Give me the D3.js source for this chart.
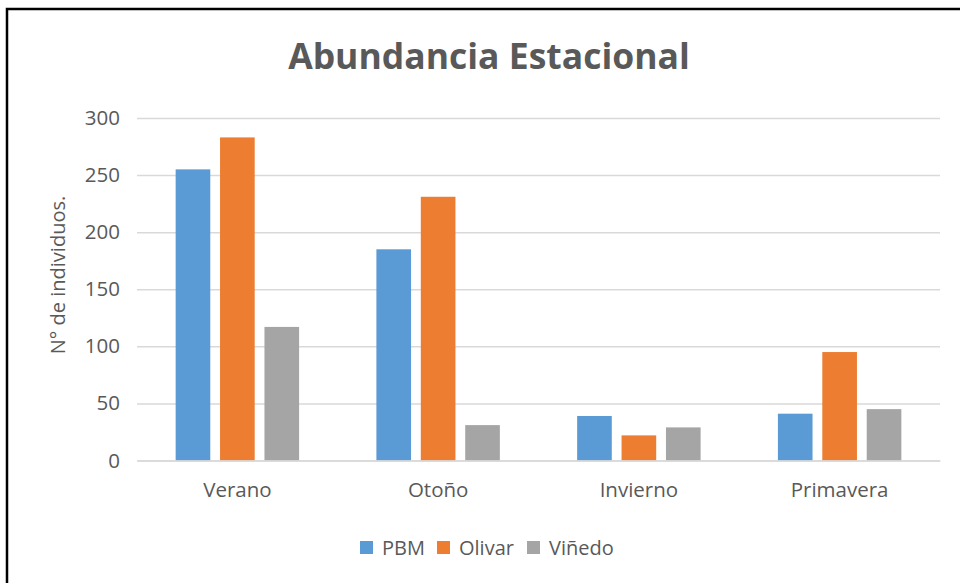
<!DOCTYPE html>
<html>
<head>
<meta charset="utf-8">
<script src="https://cdn.jsdelivr.net/npm/d3@7"></script>
<style>
  html, body { margin: 0; padding: 0; background: #fff; }
  svg { display: block; }
</style>
</head>
<body>
<svg id="chart" width="960" height="583"></svg>
<script>
const categories = ["Verano", "Otoño", "Invierno", "Primavera"];
const seriesNames = ["PBM", "Olivar", "Viñedo"];
const PBM = [255, 185, 39, 41];
const Olivar = [283, 231, 22, 95];
const Vinedo = [117, 31, 29, 45];
const yTicks = [0, 50, 100, 150, 200, 250, 300];
const colors = ["#5B9BD5", "#ED7D31", "#A5A5A5"];

(function () {
const seriesValues = [PBM, Olivar, Vinedo];
const svg = d3.select("#chart");
const font = "'Open Sans', 'Noto Sans', sans-serif";
const textColor = "#595959";

// outer border
svg.append("rect").attr("x", 7).attr("y", 9).attr("width", 1000).attr("height", 1000)
  .attr("fill", "#fff").attr("stroke", "#000").attr("stroke-width", 2.5);

const pLeft = 137, pRight = 940, pTop = 118, pBottom = 460.5;

const y = d3.scaleLinear().domain([0, 300]).range([pBottom, pTop]);
const x0 = d3.scaleBand().domain(categories).range([pLeft, pRight]).paddingInner(0.385).paddingOuter(0.1925);
const x1 = d3.scaleBand().domain(seriesNames).range([0, x0.bandwidth()]).paddingInner(0.22).paddingOuter(0);

// gridlines
const yAxis = d3.axisLeft(y).tickValues(yTicks).tickSize(-(pRight - pLeft)).tickPadding(17);
const gy = svg.append("g").attr("transform", `translate(${pLeft},0)`).call(yAxis);
gy.select(".domain").remove();
gy.selectAll(".tick line").attr("stroke", "#d9d9d9").attr("stroke-width", 1.5);
gy.selectAll(".tick text").attr("fill", textColor).style("font-family", font).style("font-size", "20.5px");

// bars
categories.forEach((c, ci) => {
  seriesNames.forEach((s, si) => {
    const v = seriesValues[si][ci];
    svg.append("rect")
      .attr("x", x0(c) + x1(s))
      .attr("y", y(v))
      .attr("width", x1.bandwidth())
      .attr("height", y(0) - y(v))
      .attr("fill", colors[si]);
  });
});

// x axis
const xAxisScale = d3.scaleBand().domain(categories).range([pLeft, pRight]);
const xAxis = d3.axisBottom(xAxisScale).tickSize(0).tickPadding(22);
const gx = svg.append("g").attr("transform", `translate(0,${pBottom})`).call(xAxis);
gx.select(".domain").attr("stroke", "#d9d9d9").attr("stroke-width", 1.5);
gx.selectAll(".tick text").attr("fill", textColor).style("font-family", font).style("font-size", "20.5px");

// title
svg.append("text").attr("x", 489).attr("y", 69).attr("text-anchor", "middle")
  .attr("fill", textColor).style("font-family", font).style("font-weight", "bold")
  .style("font-size", "35.5px").text("Abundancia Estacional");

// y axis title
svg.append("text").attr("transform", "translate(65,275) rotate(-90)").attr("text-anchor", "middle")
  .attr("fill", textColor).style("font-family", font).style("font-size", "20px")
  .text("N° de individuos.");

// legend
const legendX = [360, 437, 527];
seriesNames.forEach((name, i) => {
  svg.append("rect").attr("x", legendX[i]).attr("y", 541).attr("width", 13).attr("height", 13).attr("fill", colors[i]);
  svg.append("text").attr("x", legendX[i] + 22).attr("y", 555).attr("fill", textColor)
    .style("font-family", font).style("font-size", "20px").text(name);
});
})();
</script>
</body>
</html>
